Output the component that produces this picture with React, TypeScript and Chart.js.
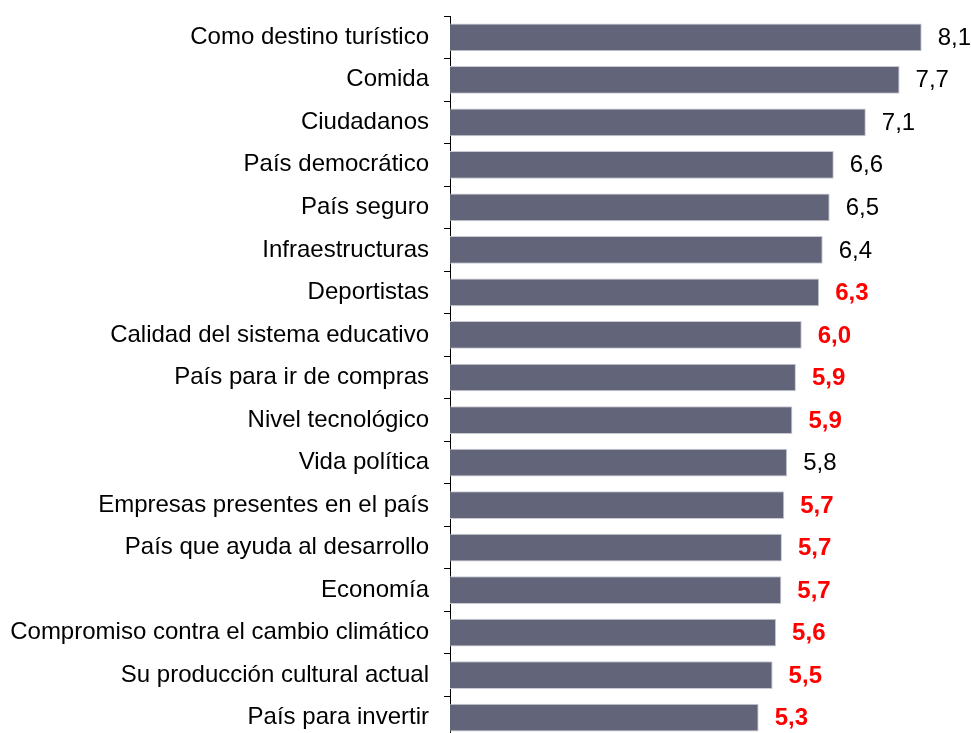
import React, { useEffect, useRef } from "react";
import { Chart, registerables } from "chart.js";

Chart.register(...registerables);

const categories = [
  "Como destino turístico",
  "Comida",
  "Ciudadanos",
  "País democrático",
  "País seguro",
  "Infraestructuras",
  "Deportistas",
  "Calidad del sistema educativo",
  "País para ir de compras",
  "Nivel tecnológico",
  "Vida política",
  "Empresas presentes en el país",
  "País que ayuda al desarrollo",
  "Economía",
  "Compromiso contra el cambio climático",
  "Su producción cultural actual",
  "País para invertir",
];

const values = [
  8.1, 7.72, 7.14, 6.59, 6.52, 6.4, 6.34, 6.04, 5.94, 5.88, 5.79, 5.74, 5.7, 5.69,
  5.6, 5.54, 5.3,
];

const highlighted = [
  false, false, false, false, false, false, true, true, true, true, false, true,
  true, true, true, true, true,
];

const FONT = "'Liberation Sans', Arial, Helvetica, sans-serif";
const BAR_COLOR = "#626579";
const BAR_EDGE = "#C9CAD3";

const valueLabelPlugin = {
  id: "valueLabels",
  afterDatasetsDraw(chart: any) {
    const ctx = chart.ctx;
    const meta = chart.getDatasetMeta(0);
    ctx.save();
    ctx.textAlign = "left";
    ctx.textBaseline = "middle";
    meta.data.forEach((bar: any, i: number) => {
      const hl = highlighted[i];
      ctx.font = `${hl ? "bold " : ""}24px ${FONT}`;
      ctx.fillStyle = hl ? "#FF0000" : "#000000";
      const txt = values[i].toFixed(1).replace(".", ",");
      ctx.fillText(txt, bar.x + 16, bar.y + 1);
    });
    ctx.restore();
  },
};

export default function App() {
  const canvasRef = useRef<HTMLCanvasElement | null>(null);

  useEffect(() => {
    if (!canvasRef.current) return;
    const chart = new Chart(canvasRef.current, {
      type: "bar",
      data: {
        labels: categories,
        datasets: [
          {
            data: values,
            backgroundColor: BAR_COLOR,
            borderColor: BAR_EDGE,
            borderWidth: 1,
            categoryPercentage: 1,
            barPercentage: 0.652,
          },
        ],
      },
      options: {
        indexAxis: "y",
        responsive: false,
        animation: false,
        devicePixelRatio: 1,
        layout: { padding: { top: 16, right: 26, bottom: 0, left: 0 } },
        plugins: {
          legend: { display: false },
          tooltip: { enabled: false },
        },
        scales: {
          x: {
            display: false,
            min: 0,
            max: 8.5,
          },
          y: {
            border: { display: true, color: "#000000", width: 1 },
            grid: {
              display: true,
              drawOnChartArea: false,
              drawTicks: true,
              tickLength: 6,
              color: "#000000",
              offset: true,
            },
            ticks: {
              color: "#000000",
              font: { family: FONT, size: 24 },
              padding: 15,
              autoSkip: false,
            },
            afterFit: (scale: any) => {
              scale.width = 450;
              scale.paddingTop = 0;
              scale.paddingBottom = 0;
            },
          },
        },
      },
      plugins: [valueLabelPlugin],
    });
    return () => chart.destroy();
  }, []);

  return (
    <div
      style={{
        position: "fixed",
        left: 0,
        top: 0,
        width: 971,
        height: 733,
        overflow: "hidden",
        background: "#ffffff",
      }}
    >
      <canvas ref={canvasRef} width={971} height={739} style={{ display: "block" }} />
    </div>
  );
}
